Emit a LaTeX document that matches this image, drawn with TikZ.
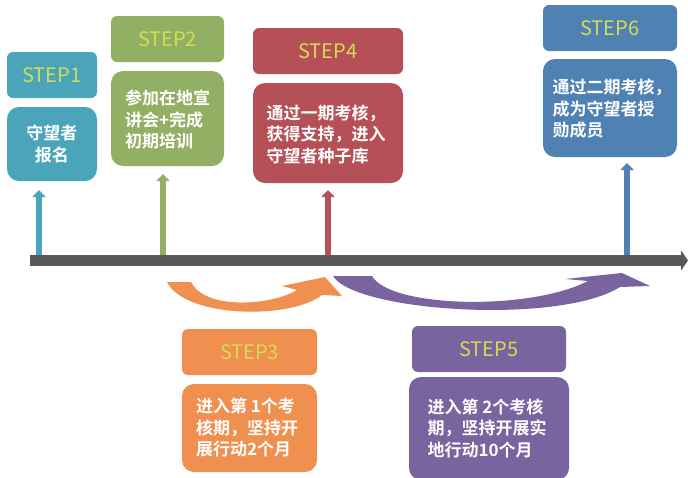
\documentclass[tikz,border=0pt]{standalone}
\usepackage{fontspec}
\setmainfont{Noto Sans CJK SC}[BoldFont={* Bold}]
\usetikzlibrary{arrows.meta}
\definecolor{cTeal}{RGB}{75,165,186}
\definecolor{cGreen}{RGB}{146,176,99}
\definecolor{cRed}{RGB}{181,80,87}
\definecolor{cBlue}{RGB}{79,129,179}
\definecolor{cOrange}{RGB}{240,144,80}
\definecolor{cPurple}{RGB}{122,100,160}
\definecolor{cYellow}{RGB}{214,219,83}
\definecolor{cGray}{RGB}{88,89,91}
\tikzset{
  head/.style={rounded corners=6pt, inner sep=0pt, text=cYellow,
    font=\fontsize{20}{24}\selectfont},
  body/.style={rounded corners=12pt, inner sep=0pt, text=white, align=left,
    font=\fontsize{17}{21.5}\selectfont\bfseries},
  up/.style={line width=6.5pt, -{Triangle[width=13pt,length=7pt]}},
}
\begin{document}
\begin{tikzpicture}[x=1pt,y=-1pt]
\useasboundingbox (0,0) rectangle (688,477);
% timeline
\coordinate (tl0) at (30,260.5);
\coordinate (tl1) at (688,260.5);
\draw[cGray, line width=11pt, -{Triangle[width=20pt,length=7pt]}] (tl0) -- (tl1);
% STEP1
\fill[cTeal, rounded corners=6pt] (7,52) rectangle (97,98);
\node[head] (h1) at (52,75) {STEP1};
\fill[cTeal, rounded corners=12pt] (7,107) rectangle (97,181);
\node[body, align=center] (b1) at (52,144) {守望者\\报名};
\coordinate (t1) at (39,255);
\coordinate (e1) at (39,190);
\draw[up, cTeal] (t1) -- (e1);
% STEP2
\fill[cGreen, rounded corners=6pt] (111,16) rectangle (224,62);
\node[head] (h2) at (167.5,39) {STEP2};
\fill[cGreen, rounded corners=12pt] (111,71) rectangle (224,166);
\node[body] (b2) at (167.5,119.5) {参加在地宣\\讲会+完成\\初期培训};
\coordinate (t2) at (163,255);
\coordinate (e2) at (163,174);
\draw[up, cGreen] (t2) -- (e2);
% STEP4
\fill[cRed, rounded corners=6pt] (253,28) rectangle (403,74);
\node[head] (h4) at (328,51) {STEP4};
\fill[cRed, rounded corners=12pt] (253,83) rectangle (403,183);
\node[body] (b4) at (326,134) {通过一期考核，\\获得支持，进入\\守望者种子库};
\coordinate (t4) at (328,255);
\coordinate (e4) at (328,190);
\draw[up, cRed] (t4) -- (e4);
% STEP6
\fill[cBlue, rounded corners=6pt] (543,5) rectangle (677,51);
\node[head] (h6) at (610,28) {STEP6};
\fill[cBlue, rounded corners=12pt] (543,59) rectangle (677,157);
\node[body] (b6) at (612,109) {通过二期考核，\\成为守望者授\\勋成员};
\coordinate (t6) at (627,255);
\coordinate (e6) at (627,163);
\draw[up, cBlue] (t6) -- (e6);
% curved arrows
\fill[cOrange] (167,282) .. controls (185,318) and (290,320) .. (322,295)
  -- (342,296) -- (325,277) -- (282,286) -- (297,290)
  .. controls (270,306) and (205,310) .. (191,282) -- cycle;
\fill[cPurple] (333,276) .. controls (355,312) and (560,325) .. (620,287)
  -- (650,286) -- (622,273) -- (565,279) -- (588,281)
  .. controls (530,311) and (390,308) .. (372,276) -- cycle;
% STEP3
\fill[cOrange, rounded corners=6pt] (182,329) rectangle (317,375);
\node[head] (h3) at (249.5,352) {STEP3};
\fill[cOrange, rounded corners=12pt] (182,384) rectangle (317,472);
\node[body] (b3) at (247,428) {进入第 1个考\\核期，坚持开\\展行动2个月};
% STEP5
\fill[cPurple, rounded corners=6pt] (412,326) rectangle (566,372);
\node[head] (h5) at (489,349) {STEP5};
\fill[cPurple, rounded corners=12pt] (409,377) rectangle (569,480);
\node[body] (b5) at (487,428) {进入第 2个考核\\期，坚持开展实\\地行动10个月};
\end{tikzpicture}
\end{document}
